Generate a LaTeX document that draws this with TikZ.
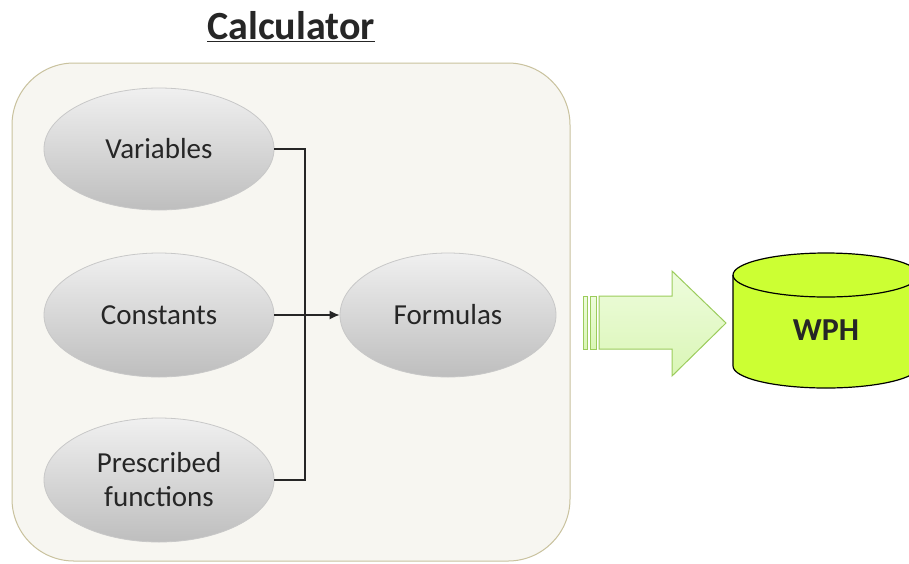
\documentclass[tikz,border=0pt]{standalone}
\usepackage{fontspec}
\setmainfont{Carlito}
\usetikzlibrary{arrows.meta,shapes.geometric}
\definecolor{panelfill}{HTML}{F7F6F1}
\definecolor{paneldraw}{HTML}{C9C29E}
\definecolor{elltop}{HTML}{F0F0F0}
\definecolor{ellbot}{HTML}{BEBEBE}
\definecolor{elldraw}{HTML}{C8C8C8}
\definecolor{arrowdraw}{HTML}{9CCC5C}
\definecolor{arrowlight}{HTML}{EEFCDD}
\definecolor{arrowdark}{HTML}{DAF6B6}
\definecolor{dbfill}{HTML}{CCFF33}
\definecolor{txt}{HTML}{262626}
\tikzset{
  ell/.style={ellipse, draw=elldraw, line width=0.8pt, top color=elltop, bottom color=ellbot,
    minimum width=230pt, minimum height=122pt, inner sep=0pt, text=txt,
    font=\fontsize{29}{34}\selectfont, align=center},
  conn/.style={draw=txt, line width=1.3pt},
  bigarrow/.style={draw=arrowdraw, line width=1pt, top color=arrowlight, bottom color=arrowdark},
}
\begin{document}
\begin{tikzpicture}[x=1pt,y=-1pt]
\useasboundingbox (0,0) rectangle (909,563);
\fill[white] (0,0) rectangle (909,563);
% panel
\draw[fill=panelfill, draw=paneldraw, line width=1pt, rounded corners=62pt] (12,63) rectangle (570,561);
% title
\node[font=\bfseries\fontsize{40}{46}\selectfont, text=txt] (title) at (291,27) {\underline{Calculator}};
% ellipses
\node[ell] (v) at (159,149) {Variables};
\node[ell, minimum height=124pt] (c) at (159,315) {Constants};
\node[ell, minimum height=124pt] (pf) at (159,480) {Prescribed\\functions};
\node[ell, minimum width=216pt, minimum height=124pt] (f) at (448,315) {Formulas};
% connectors
\coordinate (j) at (305,315);
\draw[conn] (v.east) -| (j) |- (pf.east);
\draw[conn, -{Latex[length=10pt,width=9pt]}] (c.east) -- (f.west);
% big arrow
\draw[bigarrow] (583,296) rectangle (587,349);
\draw[bigarrow] (590,296) rectangle (596,349);
\draw[bigarrow] (599,296) -- (672,296) -- (672,271) -- (726,323) -- (672,376) -- (672,349) -- (599,349) -- cycle;
% database cylinder
\draw[fill=dbfill, draw=black, line width=1.2pt]
  (733,275) -- (733,366) arc[start angle=180, end angle=0, x radius=93, y radius=22]
  -- (919,275) arc[start angle=0, end angle=-180, x radius=93, y radius=22] -- cycle;
\draw[draw=black, line width=1.2pt] (733,275) arc[start angle=180, end angle=0, x radius=93, y radius=22];
\node[font=\bfseries\fontsize{32}{38}\selectfont, text=txt] (wph) at (826,330) {WPH};
\end{tikzpicture}
\end{document}
